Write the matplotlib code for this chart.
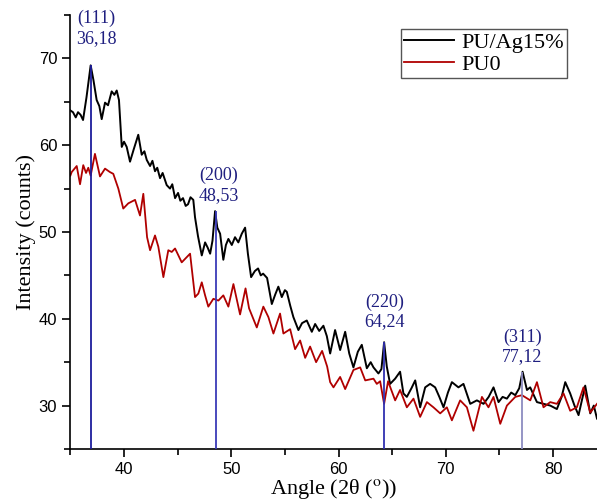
import matplotlib
matplotlib.use("Agg")
import matplotlib.pyplot as plt
from matplotlib.ticker import MultipleLocator

# PU/Ag15% (black)
ag_x = [35.0, 35.24, 35.5, 35.71, 35.95, 36.18, 36.5, 36.89, 37.15, 37.45, 37.7, 37.92, 38.23, 38.51,
        38.85, 39.1, 39.32, 39.53, 39.79, 40.0, 40.25, 40.56, 40.9, 41.33, 41.65, 41.9, 42.12,
        42.43, 42.65, 42.89, 43.1, 43.36, 43.6, 43.98, 44.29, 44.5, 44.76, 45.04, 45.25, 45.5,
        45.75, 45.97, 46.2, 46.46, 46.62, 46.9, 47.25, 47.56, 47.8, 48.03, 48.25, 48.49, 48.7,
        48.96, 49.26, 49.5, 49.73, 50.05, 50.35, 50.66, 50.98, 51.29, 51.55, 51.85, 52.2, 52.5,
        52.75, 52.97, 53.34, 53.78, 54.1, 54.39, 54.71, 55.0, 55.18, 55.5, 55.79, 56.26, 56.6,
        57.04, 57.51, 57.82, 58.2, 58.59, 58.91, 59.22, 59.68, 60.15, 60.62, 61.0, 61.39, 61.8,
        62.17, 62.64, 63.0, 63.26, 63.72, 64.0, 64.25, 64.5, 64.81, 65.28, 65.74, 66.05, 66.37,
        66.8, 67.15, 67.61, 68.08, 68.54, 69.01, 69.4, 69.79, 70.2, 70.57, 71.18, 71.65, 72.28,
        72.9, 73.52, 74.0, 74.45, 74.92, 75.3, 75.7, 76.1, 76.48, 76.85, 77.16, 77.57, 77.87,
        78.5, 79.11, 79.74, 80.36, 80.8, 81.14, 81.6, 82.0, 82.38, 83.0, 83.47, 83.8, 84.1]
ag_y = [64.0, 63.8, 63.2, 63.8, 63.5, 62.9, 65.5, 69.2, 67.5, 65.2, 64.5, 63.0, 64.9, 64.6,
        66.2, 65.8, 66.3, 65.2, 59.8, 60.4, 59.8, 58.1, 59.5, 61.2, 58.9, 59.3, 58.3,
        57.6, 58.2, 57.0, 57.4, 56.2, 56.8, 55.4, 55.0, 55.5, 53.9, 54.5, 53.6, 53.9,
        53.0, 53.2, 54.0, 53.7, 51.7, 49.5, 47.3, 48.8, 48.2, 47.5, 49.0, 52.4, 50.5,
        49.8, 46.8, 48.5, 49.2, 48.5, 49.4, 48.8, 49.8, 50.5, 47.5, 44.8, 45.5, 45.8,
        45.0, 45.2, 44.7, 41.7, 42.8, 43.7, 42.5, 43.3, 43.1, 41.5, 40.2, 38.7, 39.5,
        39.8, 38.5, 39.4, 38.6, 39.2, 38.0, 36.0, 38.7, 36.4, 38.5, 36.0, 34.4, 36.2,
        37.0, 34.3, 35.0, 34.4, 33.7, 34.2, 37.3, 34.5, 32.5, 33.1, 33.9, 31.4, 31.0,
        32.0, 32.9, 29.8, 32.1, 32.5, 32.1, 31.0, 29.8, 31.5, 32.7, 32.1, 32.5, 30.2,
        30.6, 30.2, 31.0, 32.1, 30.4, 31.0, 30.8, 31.5, 31.2, 32.0, 33.9, 31.8, 32.1,
        30.4, 30.2, 30.0, 29.6, 31.0, 32.7, 31.4, 30.0, 28.9, 32.3, 29.1, 30.0, 28.5]

# PU0 (red)
pu_x = [35.0, 35.12, 35.59, 35.9, 36.2, 36.46, 36.67, 36.89, 37.29, 37.76, 38.23, 38.69, 39.0,
        39.47, 39.93, 40.4, 41.03, 41.49, 41.8, 42.15, 42.43, 42.89, 43.2, 43.67, 44.13, 44.45,
        44.76, 45.38, 46.16, 46.62, 46.93, 47.25, 47.56, 47.86, 48.33, 48.8, 49.26, 49.73, 50.2,
        50.82, 51.33, 51.66, 52.38, 52.99, 53.46, 53.93, 54.55, 54.86, 55.49, 55.95, 56.42,
        56.89, 57.35, 57.91, 58.47, 58.94, 59.22, 59.53, 60.15, 60.62, 61.39, 62.02, 62.49,
        63.26, 63.57, 63.88, 64.25, 64.62, 65.28, 65.74, 66.37, 66.99, 67.61, 68.24, 68.85,
        69.48, 70.1, 70.57, 71.34, 71.97, 72.58, 73.37, 73.98, 74.45, 75.08, 75.7, 76.48, 77.1,
        77.88, 78.5, 79.11, 79.74, 80.36, 80.98, 81.6, 82.22, 82.84, 83.47, 84.1]
pu_y = [56.5, 56.9, 57.6, 55.5, 57.7, 56.8, 57.4, 56.5, 59.0, 56.4, 57.3, 56.9, 56.7,
        55.0, 52.7, 53.3, 53.7, 51.9, 54.4, 49.4, 47.9, 49.6, 48.3, 44.8, 47.9, 47.7,
        48.1, 46.5, 47.5, 42.5, 42.9, 44.2, 42.7, 41.4, 42.3, 42.1, 42.7, 41.4, 44.0,
        40.5, 43.5, 41.2, 39.0, 41.4, 40.2, 38.3, 40.6, 38.3, 38.8, 36.5, 37.5,
        35.5, 36.8, 35.0, 36.3, 34.5, 32.7, 32.1, 33.3, 31.9, 34.1, 34.4, 32.9,
        33.1, 32.5, 32.8, 30.2, 32.8, 30.6, 31.8, 29.8, 30.8, 28.7, 30.4, 29.8,
        29.1, 29.8, 28.3, 30.6, 29.8, 27.1, 31.0, 29.8, 31.0, 27.9, 30.0, 31.0, 31.2,
        30.6, 32.7, 29.8, 30.4, 30.2, 31.4, 29.4, 29.8, 32.1, 29.2, 30.2]

# peak markers
peak_pos = [36.89, 48.53, 64.25, 77.12]
peak_top = [69.2, 52.4, 37.3, 33.9]
peak_hkl = ["(111)", "(200)", "(220)", "(311)"]
peak_lbl = ["36,18", "48,53", "64,24", "77,12"]
peak_col = ["#1c1c9c", "#3a3ab8", "#3030b0", "#8c8cc0"]
peak_txt = [(37.4, 75.6), (48.86, 57.5), (64.29, 42.9), (77.13, 38.9)]

plt.rcParams['font.family'] = ['Liberation Serif', 'DejaVu Serif']
plt.rcParams['mathtext.fontset'] = 'stix'

fig = plt.figure(figsize=(5.97, 5.03), dpi=100)
ax = fig.add_axes([0.1179, 0.1074, 0.8821, 0.8628])

for xp, yt, c in zip(peak_pos, peak_top, peak_col):
    ax.vlines(xp, 25, yt, color=c, lw=1.3, zorder=3)

ax.plot(ag_x, ag_y, color='black', lw=1.4, label='PU/Ag15%', zorder=2,
        solid_joinstyle='round')
ax.plot(pu_x, pu_y, color='#b00000', lw=1.3, label='PU0', zorder=2,
        solid_joinstyle='round')

for (tx, ty), h, l in zip(peak_txt, peak_hkl, peak_lbl):
    ax.text(tx, ty, h + "\n" + l, color='#1f1f80', fontsize=13, ha='center', va='top',
            linespacing=1.2, clip_on=False)

ax.set_xlim(35, 84.1)
ax.set_ylim(25, 75)
ax.xaxis.set_major_locator(MultipleLocator(10))
ax.xaxis.set_minor_locator(MultipleLocator(5))
ax.yaxis.set_major_locator(MultipleLocator(10))
ax.yaxis.set_minor_locator(MultipleLocator(5))
ax.spines['top'].set_visible(False)
ax.spines['right'].set_visible(False)
for s in ['left', 'bottom']:
    ax.spines[s].set_linewidth(1.2)
ax.tick_params(which='major', direction='out', length=6, width=1.2, labelsize=12)
ax.tick_params(which='minor', direction='out', length=4, width=1.2)
for lab in ax.get_xticklabels() + ax.get_yticklabels():
    lab.set_family('Liberation Sans')

ax.set_xlabel('Angle (2θ ($^{\\mathrm{o}}$))', fontsize=16, labelpad=0)
ax.set_ylabel('Intensity (counts)', fontsize=16, labelpad=2)

leg = ax.legend(loc='upper right', bbox_to_anchor=(0.943, 0.967), fontsize=16,
                fancybox=False, edgecolor='#555555', handlelength=2.25, handletextpad=0.3,
                borderpad=0.15, borderaxespad=0, labelspacing=0.05, framealpha=1)
leg.get_frame().set_linewidth(1.0)

fig.savefig('out.png', dpi=100)
